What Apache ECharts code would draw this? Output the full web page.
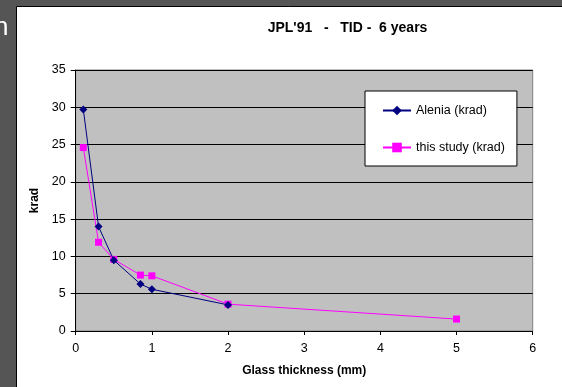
<!DOCTYPE html>
<html>
<head>
<meta charset="utf-8">
<script src="https://cdn.jsdelivr.net/npm/echarts@6/dist/echarts.min.js"></script>
<style>
html,body{margin:0;padding:0;background:#555555;}
#c{width:562px;height:387px;}
</style>
</head>
<body>
<div id="c"></div>
<script>
const aleniaX = [0.1, 0.3, 0.5, 0.85, 1.0, 2.0];
const aleniaY = [29.7, 14.0, 9.5, 6.3, 5.6, 3.5];
const studyX = [0.1, 0.3, 0.5, 0.85, 1.0, 2.0, 5.0];
const studyY = [24.6, 11.9, 9.6, 7.5, 7.4, 3.6, 1.6];
const seriesNames = ['Alenia (krad)', 'this study (krad)'];
const titleText = "JPL'91   -   TID -  6 years";
const xName = 'Glass thickness (mm)';
const yName = 'krad';

const chart = echarts.init(document.getElementById('c'), null, {renderer: 'canvas'});
const font = 'Arial, "Liberation Sans", sans-serif';
chart.setOption({
  backgroundColor: '#555555',
  animation: false,
  graphic: [
    {type: 'rect', z: -10, shape: {x: 16.5, y: 6.5, width: 600, height: 400},
     style: {fill: '#ffffff', stroke: '#000000', lineWidth: 1}},
    {type: 'text', left: -6, top: 15, z: 5,
     style: {text: 'n', fill: '#ffffff', font: '26px ' + font}},
    {type: 'text', z: 5, x: 347.5, y: 28.5,
     style: {text: titleText, fill: '#000', font: 'bold 14px ' + font, textAlign: 'center', textVerticalAlign: 'middle'}}
  ],
  grid: {left: 75.7, right: 29.3, top: 70, bottom: 56, show: true,
         backgroundColor: '#c0c0c0', borderColor: '#808080', borderWidth: 1},
  legend: {
    orient: 'vertical', left: 365, top: 91,
    backgroundColor: '#ffffff', borderColor: '#000000', borderWidth: 1,
    padding: [13, 12, 12, 17], itemGap: 24, itemWidth: 28, itemHeight: 12,
    textStyle: {fontFamily: font, fontSize: 12.5, color: '#000'},
    data: seriesNames
  },
  xAxis: {
    type: 'value', min: 0, max: 6, interval: 1,
    name: xName, nameLocation: 'middle', nameGap: 34,
    nameTextStyle: {fontFamily: font, fontSize: 12, fontWeight: 'bold', color: '#000'},
    axisLine: {show: true, lineStyle: {color: '#000', width: 1}},
    axisTick: {show: true, length: 4, lineStyle: {color: '#000'}},
    axisLabel: {fontFamily: font, fontSize: 12.5, color: '#000', margin: 11},
    splitLine: {show: false}
  },
  yAxis: {
    type: 'value', min: 0, max: 35, interval: 5,
    name: yName, nameLocation: 'middle', nameGap: 31,
    nameTextStyle: {fontFamily: font, fontSize: 12, fontWeight: 'bold', color: '#000'},
    axisLine: {show: true, lineStyle: {color: '#000', width: 1}},
    axisTick: {show: true, length: 5, lineStyle: {color: '#000'}},
    axisLabel: {fontFamily: font, fontSize: 12.5, color: '#000', margin: 10},
    splitLine: {show: true, lineStyle: {color: '#000', width: 1}}
  },
  series: [
    {name: seriesNames[0], type: 'line', data: aleniaX.map((x, i) => [x, aleniaY[i]]),
     symbol: 'diamond', symbolSize: 8, itemStyle: {color: '#000080'},
     lineStyle: {color: '#000080', width: 1}, z: 3},
    {name: seriesNames[1], type: 'line', data: studyX.map((x, i) => [x, studyY[i]]),
     symbol: 'rect', symbolSize: 7, itemStyle: {color: '#ff00ff'},
     lineStyle: {color: '#ff00ff', width: 1}, z: 2}
  ]
});
</script>
</body>
</html>
